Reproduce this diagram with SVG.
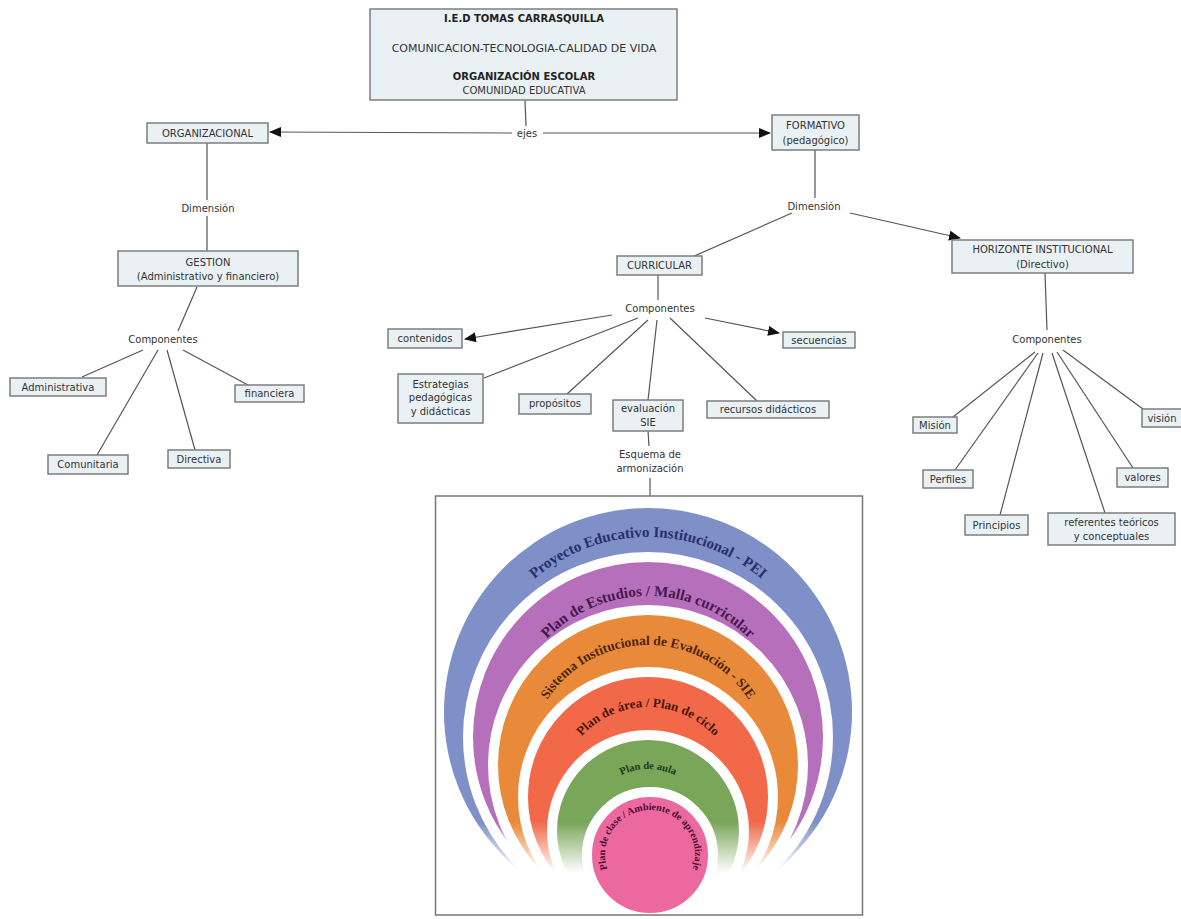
<svg xmlns="http://www.w3.org/2000/svg" width="1181" height="919" viewBox="0 0 1181 919">
<defs>
<marker id="arr" markerUnits="userSpaceOnUse" markerWidth="12" markerHeight="10" refX="11" refY="5" orient="auto">
<path d="M0,0 L12,5 L0,10 Z" fill="#111"/>
</marker>
<linearGradient id="fade" x1="0" y1="0" x2="0" y2="1">
<stop offset="0" stop-color="#fff" stop-opacity="0"/>
<stop offset="0.55" stop-color="#fff" stop-opacity="1"/>
<stop offset="1" stop-color="#fff" stop-opacity="1"/>
</linearGradient>
<clipPath id="frameClip"><rect x="436" y="497" width="426" height="417"/></clipPath>
<path id="pPEI" d="M473,712 A175,175 0 0 1 823,712"/>
<path id="pPlan" d="M507,737 A141,141 0 0 1 789,737"/>
<path id="pSIE" d="M528,765 A120,120 0 0 1 768,765"/>
<path id="pArea" d="M558,797 A90,90 0 0 1 738,797"/>
<path id="pAula" d="M586,831 A62,62 0 0 1 710,831"/>
<path id="pClase" d="M611,877.5 A45,45 0 1 1 689,877.5"/>
</defs>
<style>
.box{fill:#e9f1f5;stroke:#7d7d7d;stroke-width:1.5}
.t{font-family:"DejaVu Sans",Verdana,sans-serif;font-size:10px;fill:#333;text-anchor:middle}
.tb{font-weight:bold;fill:#222}
.c{fill:none;stroke:#555;stroke-width:1.2}
.ring{stroke:#fff;stroke-width:10}
.arc{font-family:"Liberation Serif","Times New Roman",serif;font-weight:bold}
</style>
<rect width="1181" height="919" fill="#fff"/>

<g id="connectors">
<path class="c" d="M525,100 L526,126"/>
<path class="c" d="M512,133 L270,132" marker-end="url(#arr)"/>
<path class="c" d="M543,133 L770,133" marker-end="url(#arr)"/>
<path class="c" d="M207,143 L207,200"/>
<path class="c" d="M207,216 L207,251"/>
<path class="c" d="M197,287 L178,331"/>
<path class="c" d="M143,350 L82,377"/>
<path class="c" d="M183,350 L248,385"/>
<path class="c" d="M158,350 L97,455"/>
<path class="c" d="M167,350 L195,450"/>
<path class="c" d="M815,150 L815,198"/>
<path class="c" d="M792,213 L692,257"/>
<path class="c" d="M850,213 L960,238" marker-end="url(#arr)"/>
<path class="c" d="M658,275 L658,300"/>
<path class="c" d="M612,315 L465,339" marker-end="url(#arr)"/>
<path class="c" d="M705,318 L779,333" marker-end="url(#arr)"/>
<path class="c" d="M638,318 L484,378"/>
<path class="c" d="M648,320 L567,394"/>
<path class="c" d="M657,320 L648,400"/>
<path class="c" d="M670,318 L757,401"/>
<path class="c" d="M648,431 L649,446"/>
<path class="c" d="M650,478 L650,496"/>
<path class="c" d="M1045,273 L1047,330"/>
<path class="c" d="M1035,352 L953,417"/>
<path class="c" d="M1038,353 L955,470"/>
<path class="c" d="M1043,353 L1000,515"/>
<path class="c" d="M1052,353 L1105,513"/>
<path class="c" d="M1057,352 L1133,468"/>
<path class="c" d="M1063,350 L1143,409"/>
</g>

<g id="n-top">
<rect class="box" x="370" y="9" width="307" height="91"/>
<text class="t tb" x="524" y="22">I.E.D TOMAS CARRASQUILLA</text>
<text class="t" x="524" y="52" style="font-size:11px">COMUNICACION-TECNOLOGIA-CALIDAD DE VIDA</text>
<text class="t tb" x="524" y="80">ORGANIZACIÓN ESCOLAR</text>
<text class="t" x="524" y="94">COMUNIDAD EDUCATIVA</text>
</g>
<g id="l-ejes"><text class="t" x="527" y="137">ejes</text></g>

<g id="n-organizacional">
<rect class="box" x="147" y="123" width="121" height="20"/>
<text class="t" x="207.5" y="137">ORGANIZACIONAL</text>
</g>
<g id="l-dim1"><text class="t" x="208" y="212">Dimensión</text></g>
<g id="n-gestion">
<rect class="box" x="118" y="251" width="180" height="35"/>
<text class="t" x="208" y="266">GESTION</text>
<text class="t" x="208" y="280">(Administrativo y financiero)</text>
</g>
<g id="l-comp1"><text class="t" x="163" y="343">Componentes</text></g>
<g id="n-administrativa">
<rect class="box" x="10" y="378" width="96" height="18"/>
<text class="t" x="58" y="391">Administrativa</text>
</g>
<g id="n-financiera">
<rect class="box" x="235" y="385" width="69" height="17"/>
<text class="t" x="269.5" y="397">financiera</text>
</g>
<g id="n-comunitaria">
<rect class="box" x="48" y="455" width="80" height="19"/>
<text class="t" x="88" y="468">Comunitaria</text>
</g>
<g id="n-directiva">
<rect class="box" x="168" y="450" width="62" height="18"/>
<text class="t" x="199" y="463">Directiva</text>
</g>

<g id="n-formativo">
<rect class="box" x="772" y="115" width="87" height="35"/>
<text class="t" x="815.5" y="129">FORMATIVO</text>
<text class="t" x="815.5" y="144">(pedagógico)</text>
</g>
<g id="l-dim2"><text class="t" x="814" y="210">Dimensión</text></g>

<g id="n-curricular">
<rect class="box" x="617" y="256" width="85" height="19"/>
<text class="t" x="659.5" y="269">CURRICULAR</text>
</g>
<g id="l-comp2"><text class="t" x="660" y="312">Componentes</text></g>
<g id="n-contenidos">
<rect class="box" x="388" y="329" width="74" height="19"/>
<text class="t" x="425" y="342">contenidos</text>
</g>
<g id="n-secuencias">
<rect class="box" x="783" y="332" width="72" height="16"/>
<text class="t" x="819" y="344">secuencias</text>
</g>
<g id="n-estrategias">
<rect class="box" x="398" y="374" width="85" height="49"/>
<text class="t" x="440.5" y="388">Estrategias</text>
<text class="t" x="440.5" y="401">pedagógicas</text>
<text class="t" x="440.5" y="415">y didácticas</text>
</g>
<g id="n-propositos">
<rect class="box" x="519" y="394" width="72" height="20"/>
<text class="t" x="555" y="407">propósitos</text>
</g>
<g id="n-evaluacion">
<rect class="box" x="613" y="400" width="70" height="31"/>
<text class="t" x="648" y="412">evaluación</text>
<text class="t" x="648" y="426">SIE</text>
</g>
<g id="n-recursos">
<rect class="box" x="707" y="401" width="122" height="17"/>
<text class="t" x="768" y="413">recursos didácticos</text>
</g>
<g id="l-esquema">
<text class="t" x="650" y="458">Esquema de</text>
<text class="t" x="650" y="472">armonización</text>
</g>

<g id="n-horizonte">
<rect class="box" x="952" y="240" width="181" height="33"/>
<text class="t" x="1042.5" y="253">HORIZONTE INSTITUCIONAL</text>
<text class="t" x="1042.5" y="268">(Directivo)</text>
</g>
<g id="l-comp3"><text class="t" x="1047" y="343">Componentes</text></g>
<g id="n-mision">
<rect class="box" x="913" y="417" width="44" height="16"/>
<text class="t" x="935" y="429">Misión</text>
</g>
<g id="n-perfiles">
<rect class="box" x="923" y="470" width="50" height="18"/>
<text class="t" x="948" y="483">Perfiles</text>
</g>
<g id="n-principios">
<rect class="box" x="965" y="515" width="63" height="20"/>
<text class="t" x="996.5" y="529">Principios</text>
</g>
<g id="n-referentes">
<rect class="box" x="1048" y="513" width="127" height="32"/>
<text class="t" x="1111.5" y="526">referentes teóricos</text>
<text class="t" x="1111.5" y="540">y conceptuales</text>
</g>
<g id="n-valores">
<rect class="box" x="1117" y="468" width="51" height="19"/>
<text class="t" x="1142.5" y="481">valores</text>
</g>
<g id="n-vision">
<rect class="box" x="1142" y="409" width="42" height="18"/>
<text class="t" x="1162" y="422">visión</text>
</g>

<g id="n-esquema-imagen">
<rect x="435.5" y="496" width="427" height="419" fill="#fff"/>
<g clip-path="url(#frameClip)">
<circle cx="648" cy="712" r="204" fill="#7f8fc7"/>
<circle class="ring" cx="648" cy="737" r="180" fill="#b66fba"/>
<circle class="ring" cx="648" cy="765" r="155" fill="#e98a3b"/>
<circle class="ring" cx="648" cy="797" r="125" fill="#f2694a"/>
<circle class="ring" cx="648" cy="831" r="96" fill="#7aa65a"/>
<text class="arc" font-size="15" fill="#26306a"><textPath href="#pPEI" startOffset="50%" text-anchor="middle">Proyecto Educativo Institucional - PEI</textPath></text>
<text class="arc" font-size="15" fill="#46184e"><textPath href="#pPlan" startOffset="50%" text-anchor="middle">Plan de Estudios / Malla curricular</textPath></text>
<text class="arc" font-size="13.5" fill="#4a2608"><textPath href="#pSIE" startOffset="50%" text-anchor="middle">Sistema Institucional de Evaluación - SIE</textPath></text>
<text class="arc" font-size="13" fill="#4a160c"><textPath href="#pArea" startOffset="50%" text-anchor="middle">Plan de área / Plan de ciclo</textPath></text>
<text class="arc" font-size="10.5" fill="#1c3812"><textPath href="#pAula" startOffset="50%" text-anchor="middle">Plan de aula</textPath></text>
<rect x="437" y="822" width="424" height="92" fill="url(#fade)"/>
<circle class="ring" cx="650" cy="855" r="63" fill="#ec69a0"/>
<text class="arc" font-size="10" fill="#4a0a2c"><textPath href="#pClase" startOffset="50%" text-anchor="middle">Plan de clase / Ambiente de aprendizaje</textPath></text>
</g>
<rect x="435.5" y="496" width="427" height="419" fill="none" stroke="#777" stroke-width="1.5"/>
</g>
</svg>
